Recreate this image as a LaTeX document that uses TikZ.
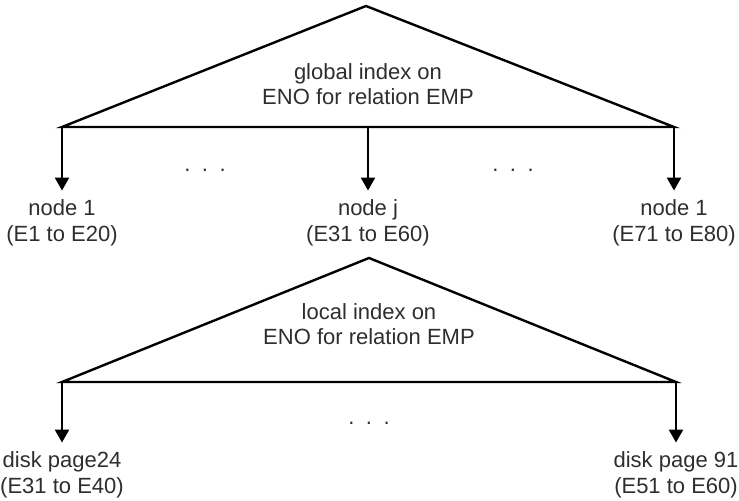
\documentclass[tikz,border=0pt]{standalone}
\usepackage{fontspec}
\setmainfont{Liberation Sans}
\usetikzlibrary{arrows.meta}

\begin{document}
\begin{tikzpicture}[x=0.5pt,y=-0.5pt,
    font=\fontsize{11}{12.8}\selectfont,
    edge/.style={line width=1.2pt},
    arr/.style={edge,-{Triangle[length=6.5pt,width=7pt]}},
    lbl/.style={align=center,inner sep=4.5pt,text=black!82},
    gap/.style={inner sep=1pt,text=black!82}]
  \def\dotrow{.\hspace{0.52em}.\hspace{0.52em}.}
  \useasboundingbox (0,0) rectangle (739,501);
  % global index tree
  \coordinate (gtop) at (366,6);
  \coordinate (gl) at (62,127);
  \coordinate (gm) at (368,127);
  \coordinate (gr) at (674,127);
  \draw[edge] (gl) -- (gtop) -- (gr) -- cycle;
  \node[lbl] (gidx) at (368,84) {global index on\\ENO for relation EMP};
  % sites
  \node[lbl] (site1) at (62,223) {node 1\\(E1 to E20)};
  \node[lbl] (sitej) at (368,223) {node j\\(E31 to E60)};
  \node[lbl] (siten) at (674,223) {node 1\\(E71 to E80)};
  \draw[arr] (gl) -- (site1);
  \draw[arr] (gm) -- (sitej);
  \draw[arr] (gr) -- (siten);
  \node[gap] (gdotsa) at (205,170) {\dotrow};
  \node[gap] (gdotsb) at (513,170) {\dotrow};
  % local index tree at node j
  \coordinate (ltop) at (369,258);
  \coordinate (ll) at (62,382);
  \coordinate (lr) at (676,382);
  \draw[edge] (ll) -- (ltop) -- (lr) -- cycle;
  \node[lbl] (lidx) at (369,324) {local index on\\ENO for relation EMP};
  % disk pages
  \node[lbl] (page24) at (62,475) {disk page24\\(E31 to E40)};
  \node[lbl] (page91) at (676,475) {disk page 91\\(E51 to E60)};
  \draw[arr] (ll) -- (page24);
  \draw[arr] (lr) -- (page91);
  \node[gap] (ldots) at (369,423) {\dotrow};
\end{tikzpicture}
\end{document}
